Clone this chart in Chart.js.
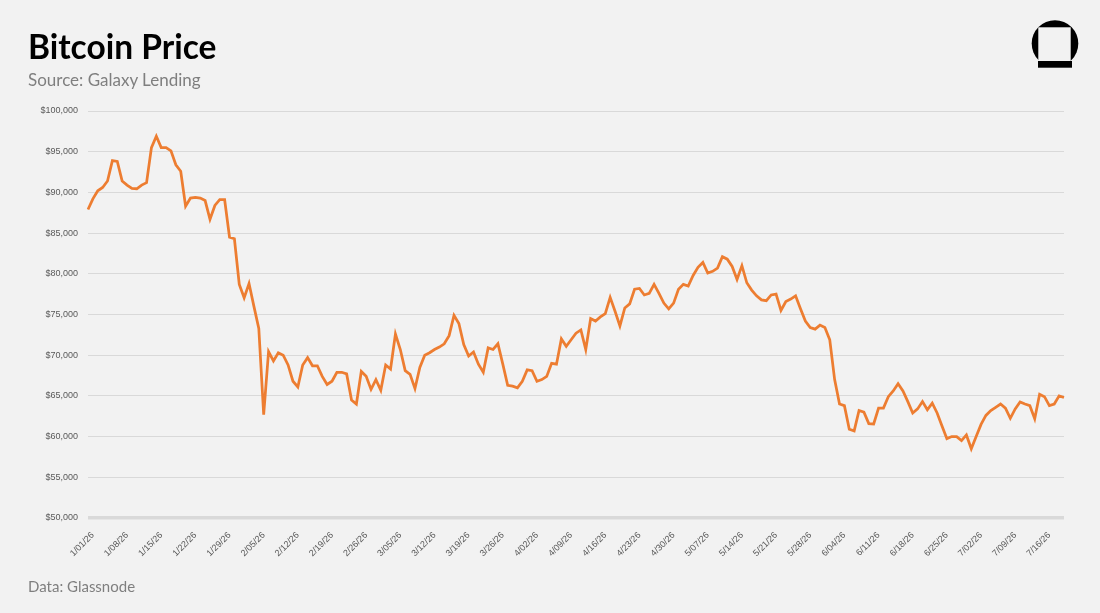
<!DOCTYPE html>
<html>
<head>
<meta charset="utf-8">
<title>Bitcoin Price</title>
<script src="https://cdn.jsdelivr.net/npm/chart.js@4.4.1/dist/chart.umd.min.js"></script>
<style>
  html, body { margin: 0; padding: 0; background: #f2f2f2; }
  #wrap { position: relative; width: 1100px; height: 613px; overflow: hidden; background: #f2f2f2; }
  #priceChart { position: absolute; left: 0; top: 0; }
  .txt { position: absolute; left: 28px; line-height: 1; white-space: nowrap; font-family: Lato, "Open Sans", sans-serif; }
  #title { top: 30px; font-size: 33.5px; font-weight: bold; color: #000; }
  #subtitle { top: 71px; font-size: 17px; color: #7f7f7f; }
  #footer { top: 579px; font-size: 15px; color: #7f7f7f; }
  #logo { position: absolute; left: 1028px; top: 17px; }
</style>
</head>
<body>
<div id="wrap">
  <canvas id="priceChart" width="1100" height="613"></canvas>
  <div class="txt" id="title">Bitcoin Price</div>
  <div class="txt" id="subtitle">Source: Galaxy Lending</div>
  <div class="txt" id="footer">Data: Glassnode</div>
  <svg id="logo" width="54" height="54" viewBox="0 0 54 54">
    <circle cx="27" cy="26.5" r="23.3" fill="#000"/>
    <rect x="10.3" y="10.3" width="32.4" height="33.7" fill="#f2f2f2"/>
    <rect x="10" y="44" width="34" height="6.7" fill="#000"/>
  </svg>
</div>

<script>
// daily BTC close, thousands of USD, 12/31/25 .. 7/19/26
var startDate = new Date(2025, 11, 31);
var dayCount = 201;

var priceK = [
  87.9, 89.2, 90.2, 90.6, 91.4, 93.9, 93.8, 91.4, 90.9, 90.5, 90.45,
  90.9, 91.2, 95.5, 96.9, 95.5, 95.5, 95.1, 93.4, 92.6, 88.3,
  89.3, 89.4, 89.3, 89.0, 86.7, 88.4, 89.1, 89.1, 84.5, 84.3,
  78.7, 77.05, 78.8, 76.0, 73.3, 62.7, 70.45, 69.3, 70.3, 70.0,
  68.8, 66.8, 66.1, 68.8, 69.7, 68.7, 68.7, 67.4, 66.4, 66.8,
  67.9, 67.9, 67.7, 64.5, 64.0, 68.0, 67.4, 65.8, 67.0, 65.7,
  68.8, 68.3, 72.6, 70.7, 68.1, 67.65, 65.9, 68.5, 70.0, 70.3,
  70.7, 71.0, 71.4, 72.4, 74.9, 73.9, 71.3, 69.9, 70.4, 68.9,
  67.9, 70.9, 70.7, 71.4, 68.9, 66.3, 66.2, 66.0, 66.8, 68.2,
  68.1, 66.8, 67.0, 67.4, 69.0, 68.9, 72.0, 71.1, 71.9, 72.7,
  73.1, 70.7, 74.5, 74.2, 74.7, 75.1, 77.1, 75.4, 73.6, 75.8,
  76.3, 78.1, 78.2, 77.4, 77.6, 78.7, 77.6, 76.4, 75.7, 76.4,
  78.1, 78.7, 78.5, 79.8, 80.8, 81.4, 80.1, 80.3, 80.7, 82.1,
  81.8, 80.9, 79.3, 81.0, 78.9, 78.0, 77.3, 76.8, 76.7, 77.4,
  77.5, 75.5, 76.6, 76.9, 77.3, 75.7, 74.2, 73.4, 73.2, 73.7,
  73.4, 71.9, 67.0, 64.0, 63.8, 60.9, 60.7, 63.2, 63.0, 61.6,
  61.55, 63.5, 63.5, 64.9, 65.6, 66.5, 65.6, 64.3, 62.9, 63.4,
  64.3, 63.3, 64.1, 62.9, 61.3, 59.75, 60.0, 60.0, 59.5, 60.2,
  58.5, 60.0, 61.5, 62.6, 63.2, 63.6, 64.0, 63.5, 62.25, 63.4,
  64.25, 64.0, 63.8, 62.2, 65.2, 64.9, 63.8, 64.0, 65.0, 64.8
];

var yMin = 50000;
var yMax = 100000;
var yStep = 5000;
var firstTick = 1;   // 1/01/26
var tickEvery = 7;   // a date label every week

function fmtDate(d) {
  var dd = d.getDate();
  return (d.getMonth() + 1) + '/' + (dd < 10 ? '0' + dd : dd) + '/' + String(d.getFullYear()).slice(2);
}

var labels = [];
for (var i = 0; i < dayCount; i++) {
  var d = new Date(startDate);
  d.setDate(startDate.getDate() + i);
  labels.push(fmtDate(d));
}

var axisFont = { family: '"Liberation Sans", Arial, sans-serif', size: 9 };

new Chart(document.getElementById('priceChart').getContext('2d'), {
  type: 'line',
  data: {
    labels: labels,
    datasets: [{
      label: 'Bitcoin Price',
      data: priceK.map(function (v) { return v * 1000; }),
      borderColor: '#ed7d31',
      borderWidth: 2.75,
      pointRadius: 0,
      tension: 0,
      fill: false
    }]
  },
  options: {
    responsive: false,
    animation: false,
    layout: { padding: { top: 111, right: 36, bottom: 0, left: 0 } },
    plugins: {
      legend: { display: false },
      tooltip: { enabled: false }
    },
    scales: {
      x: {
        offset: false,
        grid: { display: false },
        border: { display: false },
        ticks: {
          autoSkip: false,
          minRotation: 45,
          maxRotation: 45,
          padding: 4,
          color: '#595959',
          font: axisFont,
          callback: function (val, idx) {
            return idx >= firstTick && (idx - firstTick) % tickEvery === 0 ? this.getLabelForValue(val) : null;
          }
        },
        afterFit: function (scale) { scale.height = 95; }
      },
      y: {
        min: yMin,
        max: yMax,
        border: { display: false },
        grid: {
          color: '#d9d9d9',
          drawTicks: false,
          lineWidth: function (ctx) { return ctx.tick && ctx.tick.value === yMin ? 3.5 : 1; }
        },
        ticks: {
          stepSize: yStep,
          padding: 10,
          color: '#595959',
          font: axisFont,
          callback: function (v) { return '$' + v.toLocaleString('en-US'); }
        },
        afterFit: function (scale) { scale.width = 88; }
      }
    }
  }
});
</script>
</body>
</html>
